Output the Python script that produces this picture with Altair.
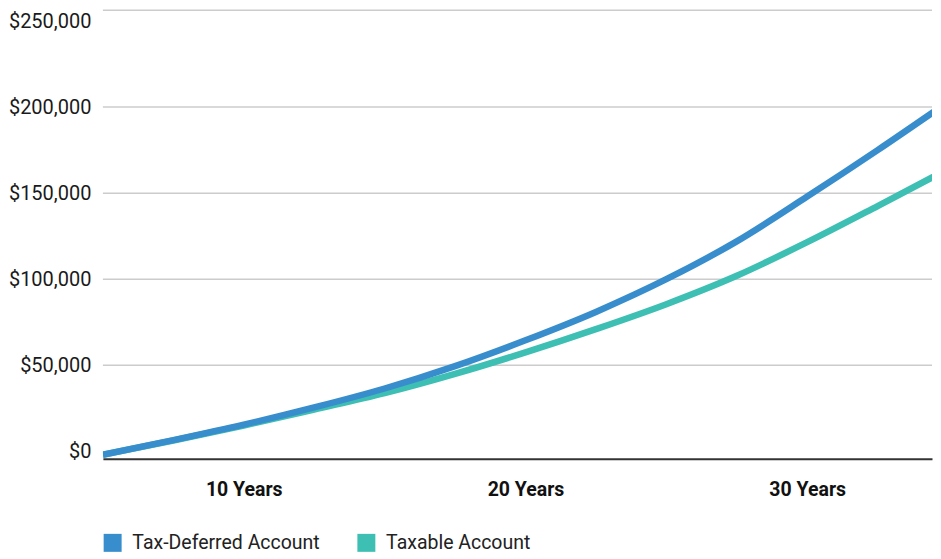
import altair as alt
import pandas as pd

# ---- data ----
years = [0, 2.5, 5, 7.5, 10, 12.5, 15, 17.5, 20, 22.5, 25, 27.5, 30]
tax_deferred = [-2000, 6500, 15500, 25500, 36500, 49500, 64500, 81000, 100000, 122000, 148000, 175000, 203000]
taxable = [-2000, 6300, 15000, 24300, 33800, 45000, 57500, 71000, 85500, 102000, 121500, 142500, 164000]

series_names = ["Tax-Deferred Account", "Taxable Account"]
series_colors = ["#388ecc", "#3ebfb3"]

x_tick_positions = [5, 15, 25]
x_tick_labels = ["10 Years", "20 Years", "30 Years"]
y_ticks = [0, 50000, 100000, 150000, 200000, 250000]
grid_values = [50000, 100000, 150000, 200000, 256240]

rows = []
for i, yr in enumerate(years):
    rows.append({"year": yr, "series": series_names[0], "value": tax_deferred[i]})
    rows.append({"year": yr, "series": series_names[1], "value": taxable[i]})
df = pd.DataFrame(rows)
grid_df = pd.DataFrame({"value": grid_values})

FONT = "Roboto"

label_expr = " : ".join(
    f"datum.value == {p} ? '{t}'" for p, t in zip(x_tick_positions, x_tick_labels)
) + " : ''"

x_scale = alt.Scale(domain=[0, 29.43], nice=False, zero=False)
y_scale = alt.Scale(domain=[-4350, 256240], nice=False, zero=False)

x_axis = alt.Axis(
    values=x_tick_positions, labelExpr=label_expr, title=None, grid=False,
    ticks=False, tickSize=0, domainColor="#333333", domainWidth=2,
    labelFont=FONT, labelFontSize=19.5, labelFontWeight="bold", labelColor="#111111",
    labelPadding=22, labelFlush=False,
)
y_axis = alt.Axis(
    values=y_ticks, format="$,.0f", title=None, grid=False, ticks=False, tickSize=0,
    domain=False, labelFont=FONT, labelFontSize=20, labelColor="#1a1a1a",
    labelPadding=12, minExtent=95, maxExtent=95,
)

color_enc = alt.Color(
    "series:N",
    scale=alt.Scale(domain=series_names, range=series_colors),
    legend=alt.Legend(
        title=None, orient="none", legendX=0, legendY=523, direction="horizontal",
        symbolType="square", symbolSize=81, symbolStrokeWidth=9,
        labelFont=FONT, labelFontSize=19.5, labelColor="#222222", labelLimit=400,
        labelOffset=10, columnPadding=23, padding=0,
    ),
)

grid = alt.Chart(grid_df).mark_rule(color="#cccccc", strokeWidth=1.5).encode(
    y=alt.Y("value:Q", scale=y_scale, axis=y_axis)
)

green = alt.Chart(df).transform_filter(
    alt.datum.series == series_names[1]
).mark_line(strokeWidth=6.5, clip=True, interpolate="monotone").encode(
    x=alt.X("year:Q", scale=x_scale, axis=x_axis),
    y=alt.Y("value:Q", scale=y_scale, axis=y_axis),
    color=color_enc,
)

blue = alt.Chart(df).transform_filter(
    alt.datum.series == series_names[0]
).mark_line(strokeWidth=6.5, clip=True, interpolate="monotone").encode(
    x=alt.X("year:Q", scale=x_scale, axis=x_axis),
    y=alt.Y("value:Q", scale=y_scale, axis=y_axis),
    color=color_enc,
)

chart = alt.layer(grid, green, blue).properties(
    width=830, height=449,
    padding={"left": 0, "top": 1, "right": 0, "bottom": 0},
    background="white",
).configure_view(stroke=None)

chart.save("out.html", embed_options={"renderer": "svg", "actions": False})
